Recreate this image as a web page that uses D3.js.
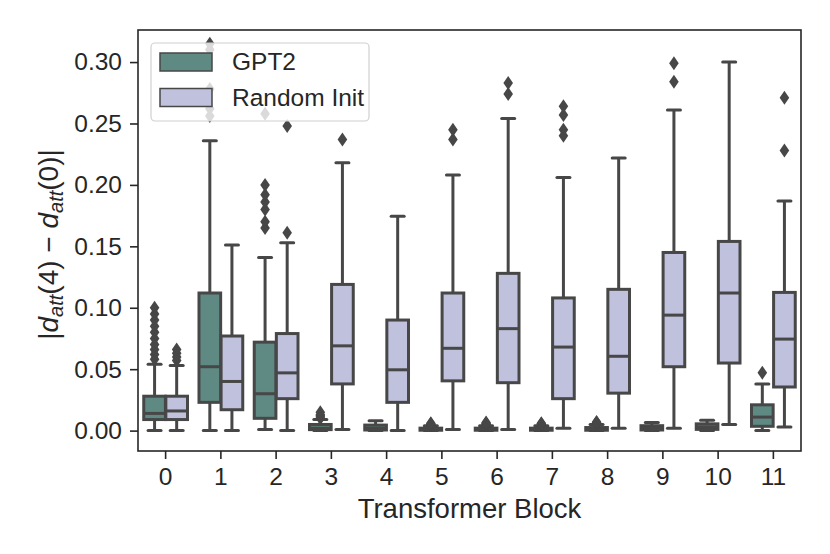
<!DOCTYPE html>
<html>
<head>
<meta charset="utf-8">
<script src="https://cdn.jsdelivr.net/npm/d3@7"></script>
<style>
  body { margin: 0; background: #fff; }
  svg { display: block; font-family: "Liberation Sans", Arial, sans-serif; }
</style>
</head>
<body>
<script>
// blocks on the x axis
const blocks = ["0", "1", "2", "3", "4", "5", "6", "7", "8", "9", "10", "11"];
const series = ["GPT2", "Random Init"];
const yTicks = [0, 0.05, 0.10, 0.15, 0.20, 0.25, 0.30];

// GPT2 box stats per block
const gpt2Lo  = [0.0, 0.0, 0.001, 0.0, 0.0, 0.0, 0.0, 0.0, 0.0, 0.0, 0.0, 0.0];
const gpt2Q1  = [0.009, 0.023, 0.010, 0.0008, 0.0005, 0.0003, 0.0003, 0.0003, 0.0003, 0.0005, 0.001, 0.0035];
const gpt2Med = [0.014, 0.052, 0.030, 0.002, 0.002, 0.001, 0.001, 0.001, 0.001, 0.002, 0.003, 0.011];
const gpt2Q3  = [0.028, 0.112, 0.072, 0.005, 0.0045, 0.002, 0.002, 0.002, 0.0025, 0.004, 0.0055, 0.021];
const gpt2Hi  = [0.054, 0.236, 0.141, 0.009, 0.008, 0.004, 0.004, 0.004, 0.005, 0.0065, 0.0085, 0.038];
const gpt2Out = [
  [0.058, 0.062, 0.066, 0.070, 0.075, 0.080, 0.085, 0.090, 0.095, 0.100],
  [0.256, 0.262, 0.278, 0.310, 0.315],
  [0.165, 0.170, 0.180, 0.186, 0.192, 0.200, 0.258],
  [0.010, 0.011, 0.012, 0.013, 0.015],
  [],
  [0.0045, 0.005, 0.0055, 0.006],
  [0.0045, 0.005, 0.0055, 0.006, 0.0065],
  [0.0045, 0.005, 0.0055, 0.006],
  [0.0055, 0.006, 0.0065, 0.007],
  [],
  [],
  [0.047]
];

// Random Init box stats per block
const randLo  = [0.0, 0.0, 0.0, 0.001, 0.0, 0.001, 0.001, 0.002, 0.002, 0.002, 0.005, 0.003];
const randQ1  = [0.009, 0.017, 0.026, 0.038, 0.023, 0.0405, 0.039, 0.026, 0.0305, 0.052, 0.055, 0.0355];
const randMed = [0.016, 0.040, 0.047, 0.069, 0.0495, 0.067, 0.083, 0.068, 0.0605, 0.094, 0.112, 0.0745];
const randQ3  = [0.028, 0.077, 0.079, 0.119, 0.090, 0.112, 0.128, 0.108, 0.115, 0.145, 0.154, 0.1125];
const randHi  = [0.053, 0.151, 0.153, 0.218, 0.1745, 0.208, 0.254, 0.206, 0.222, 0.261, 0.300, 0.187];
const randOut = [
  [0.057, 0.060, 0.063, 0.066],
  [],
  [0.161, 0.248],
  [0.237],
  [],
  [0.237, 0.245],
  [0.274, 0.283],
  [0.240, 0.245, 0.257, 0.264],
  [],
  [0.284, 0.299],
  [],
  [0.228, 0.271]
];

const colors = {"GPT2": "#5f8a83", "Random Init": "#bfc1dd"};
const edge = "#474747";

const W = 830, H = 554;
const margin = {top: 30, right: 29, bottom: 103, left: 138};

const svg = d3.select("body")
  .append("svg")
  .attr("width", W)
  .attr("height", H);

const x = d3.scaleBand()
  .domain(blocks)
  .range([margin.left, W - margin.right]);

const hue = d3.scaleBand()
  .domain(series)
  .range([0, x.bandwidth() * 0.8])
  .paddingInner(0);

const y = d3.scaleLinear()
  .domain([-0.0166, 0.3261])
  .range([H - margin.bottom, margin.top]);

// build box records
const boxes = [];
blocks.forEach((b, i) => {
  boxes.push({block: b, s: "GPT2", lo: gpt2Lo[i], q1: gpt2Q1[i], med: gpt2Med[i], q3: gpt2Q3[i], hi: gpt2Hi[i], out: gpt2Out[i]});
  boxes.push({block: b, s: "Random Init", lo: randLo[i], q1: randQ1[i], med: randMed[i], q3: randQ3[i], hi: randHi[i], out: randOut[i]});
});

const bw = hue.bandwidth() * 0.98;
const cx = d => x(d.block) + x.bandwidth() * 0.1 + hue(d.s) + hue.bandwidth() / 2;
const capW = 13;

const g = svg.append("g");

const box = g.selectAll("g.box")
  .data(boxes)
  .enter()
  .append("g")
  .attr("class", "box");

// whiskers
box.append("line")
  .attr("x1", cx).attr("x2", cx)
  .attr("y1", d => y(d.q3)).attr("y2", d => y(d.hi))
  .attr("stroke", edge).attr("stroke-width", 3);
box.append("line")
  .attr("x1", cx).attr("x2", cx)
  .attr("y1", d => y(d.q1)).attr("y2", d => y(d.lo))
  .attr("stroke", edge).attr("stroke-width", 3);
// caps
box.append("line")
  .attr("x1", d => cx(d) - capW / 2).attr("x2", d => cx(d) + capW / 2)
  .attr("y1", d => y(d.hi)).attr("y2", d => y(d.hi))
  .attr("stroke", edge).attr("stroke-width", 3).attr("stroke-linecap", "round");
box.append("line")
  .attr("x1", d => cx(d) - capW / 2).attr("x2", d => cx(d) + capW / 2)
  .attr("y1", d => y(d.lo)).attr("y2", d => y(d.lo))
  .attr("stroke", edge).attr("stroke-width", 3).attr("stroke-linecap", "round");
// box body
box.append("rect")
  .attr("x", d => cx(d) - bw / 2)
  .attr("width", bw)
  .attr("y", d => y(d.q3))
  .attr("height", d => y(d.q1) - y(d.q3))
  .attr("fill", d => colors[d.s])
  .attr("stroke", edge)
  .attr("stroke-width", 3);
// median
box.append("line")
  .attr("x1", d => cx(d) - bw / 2).attr("x2", d => cx(d) + bw / 2)
  .attr("y1", d => y(d.med)).attr("y2", d => y(d.med))
  .attr("stroke", edge).attr("stroke-width", 3);

// outliers as thin diamonds
const dw = 4.8, dh = 7;
box.selectAll("path.flier")
  .data(d => d.out.map(v => ({v: v, c: cx(d)})))
  .enter()
  .append("path")
  .attr("class", "flier")
  .attr("d", p => {
    const px = p.c, py = y(p.v);
    return `M${px},${py - dh}L${px + dw},${py}L${px},${py + dh}L${px - dw},${py}Z`;
  })
  .attr("fill", edge);

// frame
svg.append("rect")
  .attr("x", margin.left)
  .attr("y", margin.top)
  .attr("width", W - margin.left - margin.right)
  .attr("height", H - margin.top - margin.bottom)
  .attr("fill", "none")
  .attr("stroke", "#262626")
  .attr("stroke-width", 1.6);

// axes
const xAxis = svg.append("g")
  .attr("transform", `translate(0,${H - margin.bottom})`)
  .call(d3.axisBottom(x).tickSize(8).tickPadding(9));
const yAxis = svg.append("g")
  .attr("transform", `translate(${margin.left},0)`)
  .call(d3.axisLeft(y).tickValues(yTicks).tickFormat(d3.format(".2f")).tickSize(8).tickPadding(8));

[xAxis, yAxis].forEach(a => {
  a.select(".domain").remove();
  a.selectAll(".tick line").attr("stroke", "#262626").attr("stroke-width", 1.6);
  a.selectAll(".tick text")
    .attr("fill", "#262626")
    .style("font-size", "24.5px")
    .style("font-family", "'Liberation Sans', Arial, sans-serif");
});

// axis labels
svg.append("text")
  .attr("x", (margin.left + W - margin.right) / 2)
  .attr("y", 518)
  .attr("text-anchor", "middle")
  .attr("fill", "#262626")
  .style("font-size", "27.5px")
  .text("Transformer Block");

const yl = svg.append("text")
  .attr("transform", `translate(58,${(margin.top + H - margin.bottom) / 2 + 4}) rotate(-90)`)
  .attr("text-anchor", "middle")
  .attr("fill", "#262626")
  .style("font-size", "28px");
yl.append("tspan").text("|");
yl.append("tspan").attr("font-style", "italic").text("d");
yl.append("tspan").attr("font-style", "italic").attr("font-size", "20px").attr("dy", 5).text("att");
yl.append("tspan").attr("dy", -5).text("(4) \u2212 ");
yl.append("tspan").attr("font-style", "italic").text("d");
yl.append("tspan").attr("font-style", "italic").attr("font-size", "20px").attr("dy", 5).text("att");
yl.append("tspan").attr("dy", -5).text("(0)|");

// legend
const leg = svg.append("g");
leg.append("rect")
  .attr("x", 151).attr("y", 43)
  .attr("width", 218).attr("height", 78)
  .attr("rx", 4)
  .attr("fill", "#fff").attr("fill-opacity", 0.8)
  .attr("stroke", "#d0d0d0").attr("stroke-width", 1.2);
const li = leg.selectAll("g.item")
  .data(series)
  .enter()
  .append("g")
  .attr("transform", (d, i) => `translate(160,${53 + i * 35.5})`);
li.append("rect")
  .attr("width", 52).attr("height", 18)
  .attr("fill", d => colors[d])
  .attr("stroke", edge).attr("stroke-width", 1.5);
li.append("text")
  .attr("x", 72).attr("y", 17)
  .attr("fill", "#262626")
  .style("font-size", "24.5px")
  .text(d => d);
</script>
</body>
</html>
